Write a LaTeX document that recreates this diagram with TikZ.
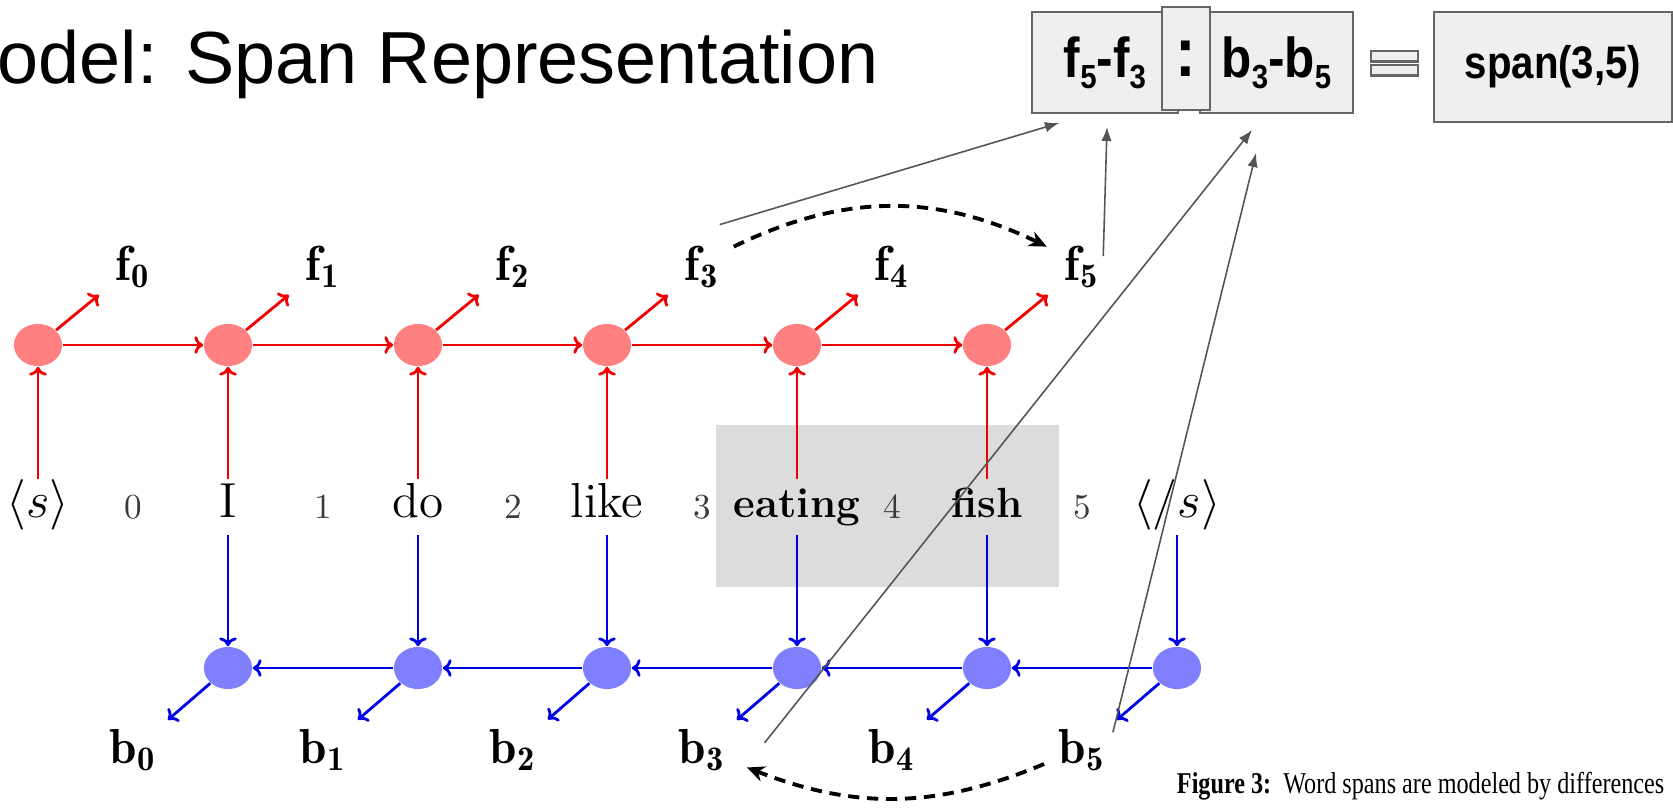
\documentclass[tikz,border=0pt]{standalone}
\usepackage{fontspec}
\usepackage{amsmath}
\usepackage{xcolor}
\usepackage{tikz}
\usetikzlibrary{shapes.geometric, arrows.meta, positioning}
\newfontfamily\headfont{Liberation Sans}
\newfontfamily\boxfont{Liberation Sans}[FakeStretch=0.88]
\newfontfamily\capfont{Liberation Serif}[FakeStretch=0.8]
\definecolor{fwdfill}{HTML}{FF8080}
\definecolor{fwdline}{HTML}{F00000}
\definecolor{bwdfill}{HTML}{8080FF}
\definecolor{bwdline}{HTML}{0000E6}
\definecolor{hlbg}{HTML}{DCDCDC}
\definecolor{boxbg}{HTML}{EFEFEF}
\definecolor{boxborder}{HTML}{666666}
\definecolor{linkgray}{HTML}{555555}
\definecolor{idxfg}{HTML}{3A3A3A}
\newcommand{\lowidx}[1]{\raisebox{-3.2pt}{\fontsize{9.5}{10}\selectfont #1}}
\tikzstyle{fwd} = [ellipse, fill=fwdfill, inner sep=0pt,
  minimum width=13.7pt, minimum height=12pt]
\tikzstyle{bwd} = [ellipse, fill=bwdfill, inner sep=0pt,
  minimum width=13.7pt, minimum height=12pt]
\tikzstyle{word} = [inner xsep=2pt, inner ysep=1pt,
  text height=9.8pt, text depth=3.6pt, font=\fontsize{14}{16}\selectfont]
\tikzstyle{keyword} = [word, font=\bfseries\fontsize{12}{14}\selectfont]
\tikzstyle{idx} = [anchor=base, inner sep=0pt, text=idxfg, font=\fontsize{10}{12}\selectfont]
\tikzstyle{lab} = [anchor=base, inner sep=2pt, font=\fontsize{14}{16}\selectfont]
\tikzstyle{repbox} = [rectangle, fill=boxbg, draw=boxborder, line width=0.6pt,
  inner sep=0pt, font=\boxfont\bfseries\fontsize{16}{18}\selectfont]
\tikzstyle{fwdarrow} = [-{To[length=2.5pt,width=5pt]}, color=fwdline, line width=0.8pt]
\tikzstyle{bwdarrow} = [-{To[length=2.5pt,width=5pt]}, color=bwdline, line width=0.8pt]
\tikzstyle{skiparrow} = [-{Stealth[length=5pt,width=4.5pt]}, color=black,
  line width=1.1pt, dash pattern=on 3.2pt off 2.2pt]
\tikzstyle{linkarrow} = [-{Latex[length=4pt,width=3pt]}, color=linkgray, line width=0.45pt]

\begin{document}
\begin{tikzpicture}[x=0.1mm, y=-0.1mm]
  \useasboundingbox (0,0) rectangle (1673,810);

  \node[anchor=base west, inner sep=0pt, font=\headfont\fontsize{21}{25}\selectfont] (title)
    at (-3,83) {odel: Span Representation};

  % span highlight
  \fill[hlbg] (716,425) rectangle (1059,587);

  % sentence
  \node[word] (w0) at (38,507) {$\langle s\rangle$};
  \node[word] (w1) at (228,507) {I};
  \node[word] (w2) at (418,507) {do};
  \node[word] (w3) at (607,507) {like};
  \node[keyword] (w4) at (797,507) {eating};
  \node[keyword] (w5) at (987,507) {fish};
  \node[word] (w6) at (1177,507) {$\langle /s\rangle$};

  \node[idx] (n0) at (133,518) {0};
  \node[idx] (n1) at (323,518) {1};
  \node[idx] (n2) at (513,518) {2};
  \node[idx] (n3) at (702,518) {3};
  \node[idx] (n4) at (892,518) {4};
  \node[idx] (n5) at (1082,518) {5};

  % forward states
  \node[fwd] (fw0) at (38,345) {};
  \node[fwd] (fw1) at (228,345) {};
  \node[fwd] (fw2) at (418,345) {};
  \node[fwd] (fw3) at (607,345) {};
  \node[fwd] (fw4) at (797,345) {};
  \node[fwd] (fw5) at (987,345) {};

  \node[lab] (f0) at (133,280) {$\mathbf{f_0}$};
  \node[lab] (f1) at (323,280) {$\mathbf{f_1}$};
  \node[lab] (f2) at (513,280) {$\mathbf{f_2}$};
  \node[lab] (f3) at (702,280) {$\mathbf{f_3}$};
  \node[lab] (f4) at (892,280) {$\mathbf{f_4}$};
  \node[lab] (f5) at (1082,280) {$\mathbf{f_5}$};

  % backward states
  \node[bwd] (bw1) at (228,668) {};
  \node[bwd] (bw2) at (418,668) {};
  \node[bwd] (bw3) at (607,668) {};
  \node[bwd] (bw4) at (797,668) {};
  \node[bwd] (bw5) at (987,668) {};
  \node[bwd] (bw6) at (1177,668) {};

  \node[lab] (b0) at (133,763) {$\mathbf{b_0}$};
  \node[lab] (b1) at (323,763) {$\mathbf{b_1}$};
  \node[lab] (b2) at (513,763) {$\mathbf{b_2}$};
  \node[lab] (b3) at (702,763) {$\mathbf{b_3}$};
  \node[lab] (b4) at (892,763) {$\mathbf{b_4}$};
  \node[lab] (b5) at (1082,763) {$\mathbf{b_5}$};

  % forward chain
  \draw[fwdarrow] (fw0) -- (fw1);
  \draw[fwdarrow] (fw1) -- (fw2);
  \draw[fwdarrow] (fw2) -- (fw3);
  \draw[fwdarrow] (fw3) -- (fw4);
  \draw[fwdarrow] (fw4) -- (fw5);
  \draw[fwdarrow] (w0) -- (fw0);
  \draw[fwdarrow] (w1) -- (fw1);
  \draw[fwdarrow] (w2) -- (fw2);
  \draw[fwdarrow] (w3) -- (fw3);
  \draw[fwdarrow] (w4) -- (fw4);
  \draw[fwdarrow] (w5) -- (fw5);
  \draw[fwdarrow, shorten >=3.5pt] (fw0) -- (f0);
  \draw[fwdarrow, shorten >=3.5pt] (fw1) -- (f1);
  \draw[fwdarrow, shorten >=3.5pt] (fw2) -- (f2);
  \draw[fwdarrow, shorten >=3.5pt] (fw3) -- (f3);
  \draw[fwdarrow, shorten >=3.5pt] (fw4) -- (f4);
  \draw[fwdarrow, shorten >=3.5pt] (fw5) -- (f5);

  % backward chain
  \draw[bwdarrow] (bw6) -- (bw5);
  \draw[bwdarrow] (bw5) -- (bw4);
  \draw[bwdarrow] (bw4) -- (bw3);
  \draw[bwdarrow] (bw3) -- (bw2);
  \draw[bwdarrow] (bw2) -- (bw1);
  \draw[bwdarrow] (w1) -- (bw1);
  \draw[bwdarrow] (w2) -- (bw2);
  \draw[bwdarrow] (w3) -- (bw3);
  \draw[bwdarrow] (w4) -- (bw4);
  \draw[bwdarrow] (w5) -- (bw5);
  \draw[bwdarrow] (w6) -- (bw6);
  \draw[bwdarrow, shorten >=1.5pt] (bw1) -- (b0);
  \draw[bwdarrow, shorten >=1.5pt] (bw2) -- (b1);
  \draw[bwdarrow, shorten >=1.5pt] (bw3) -- (b2);
  \draw[bwdarrow, shorten >=1.5pt] (bw4) -- (b3);
  \draw[bwdarrow, shorten >=1.5pt] (bw5) -- (b4);
  \draw[bwdarrow, shorten >=1.5pt] (bw6) -- (b5);

  % span endpoints
  \draw[skiparrow] ([xshift=2pt,yshift=-2.5pt]f3.north east) to[bend left=26]
    ([xshift=-3pt,yshift=-2.5pt]f5.north west);
  \draw[skiparrow] ([xshift=-2pt,yshift=-4pt]b5.west) to[bend left=22]
    ([xshift=4pt,yshift=-5pt]b3.east);

  % span representation
  \node[repbox, minimum width=41.5pt, minimum height=28.7pt] (fdiff) at (1105,62.5)
    {f\lowidx{5}-f\lowidx{3}};
  \node[repbox, minimum width=43.5pt, minimum height=28.7pt] (bdiff) at (1276.5,62.5)
    {b\lowidx{3}-b\lowidx{5}};
  \node[repbox, minimum width=13.7pt, minimum height=29.3pt,
    font=\boxfont\bfseries\fontsize{20}{22}\selectfont] (sep) at (1186,58.5) {:};
  \node[repbox, minimum width=13.4pt, minimum height=3.1pt] (eqtop) at (1394.5,56) {};
  \node[repbox, minimum width=13.4pt, minimum height=3.1pt] (eqbot) at (1394.5,70) {};
  \node[repbox, minimum width=67.7pt, minimum height=31.3pt,
    font=\boxfont\bfseries\fontsize{13}{15}\selectfont] (spanbox) at (1553,67) {span(3,5)};

  \coordinate (tipA) at (1059,123);
  \coordinate (tipB) at (1107,127);
  \coordinate (tipC) at (1252,130);
  \coordinate (tipD) at (1256,153);
  \draw[linkarrow] ([xshift=-2pt,yshift=12pt]f3.east) -- (tipA);
  \draw[linkarrow] ([xshift=-1pt,yshift=3pt]f5.east) -- (tipB);
  \draw[linkarrow] ([xshift=9pt,yshift=2pt]b3.east) -- (tipC);
  \draw[linkarrow] ([yshift=5pt]b5.east) -- (tipD);

  \node[anchor=base east, inner sep=0pt, font=\capfont\fontsize{8.6}{10}\selectfont] (caption)
    at (1665,793) {\textbf{Figure 3:}~~Word spans are modeled by differences};

\end{tikzpicture}
\end{document}
